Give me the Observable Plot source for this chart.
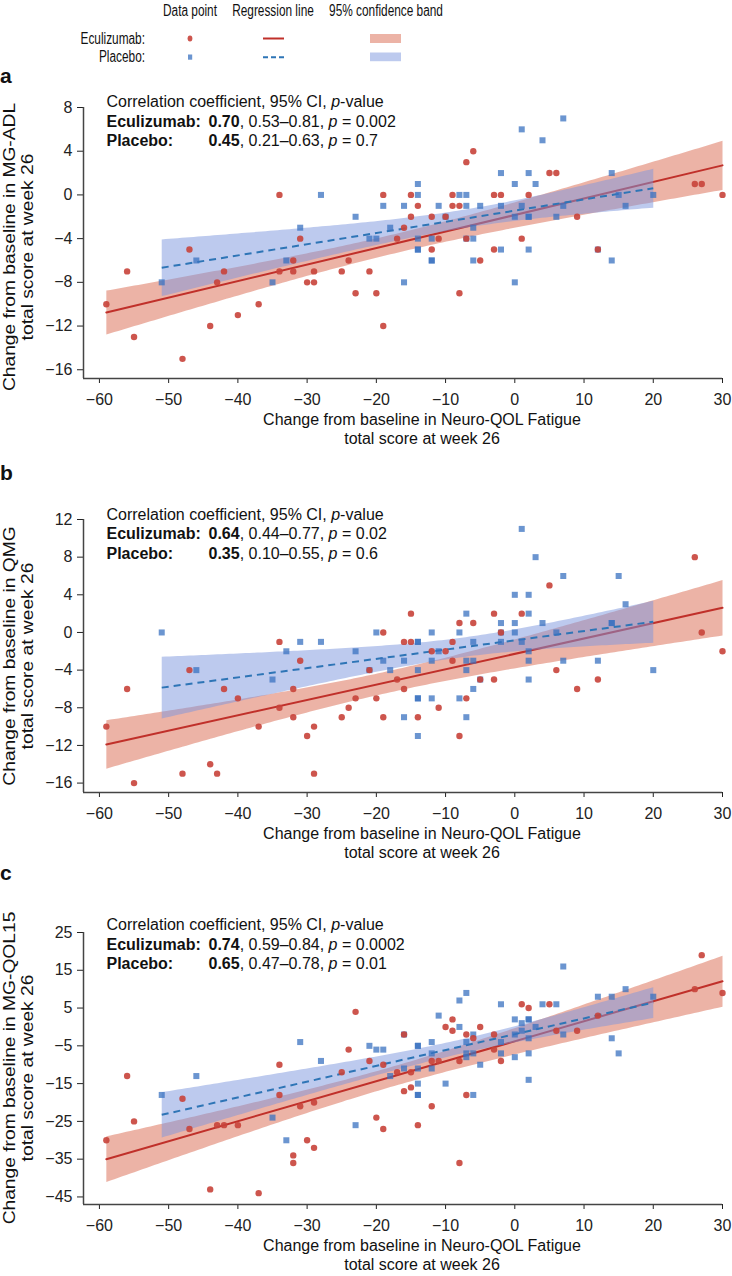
<!DOCTYPE html>
<html><head><meta charset="utf-8">
<script src="https://cdn.jsdelivr.net/npm/d3@7"></script>
<script src="https://cdn.jsdelivr.net/npm/@observablehq/plot@0.6"></script>
<style>
body{margin:0;background:#fff;font-family:"Liberation Sans",Arial,Helvetica,sans-serif;color:#111;}
#root{position:relative;width:732px;height:1276px;overflow:hidden;background:#fff;}
.abs{position:absolute;white-space:nowrap;}
.cond{transform:translate(-50%,-50%) scaleX(0.74);font-size:16px;line-height:1;}
.condR{transform:translate(-100%,-50%) scaleX(0.74);transform-origin:100% 50%;font-size:16px;line-height:1;}
.letter{font-weight:bold;font-size:21px;line-height:1;}
.ann{font-size:16px;line-height:19.5px;}
.ann .lab{display:inline-block;width:102px;font-weight:bold;}
.ann b{font-weight:bold;}
.xlab{font-size:16px;line-height:18.5px;text-align:center;transform:translateX(-50%);}
.ylab{font-size:16px;line-height:18px;text-align:center;transform:translate(-50%,-50%) rotate(-90deg) scaleX(1.2);}
</style></head><body><div id="root"></div>
<script>
// ---------- data ----------
const xTicks = [-60,-50,-40,-30,-20,-10,0,10,20,30];
const groups = ["Eculizumab", "Placebo"];
const legendHeaders = ["Data point", "Regression line", "95% confidence band"];
const xLabelLines = ["Change from baseline in Neuro-QOL Fatigue", "total score at week 26"];

// Panel a: MG-ADL
const aEculizumab = [[-59,-10],[-56,-7],[-55,-13],[-48,-15],[-47,-5],[-44,-12],[-43,-8],[-42,-7],[-40,-11],[-37,-10],[-34,0],[-34,-7],[-32,-6],[-32,-7],[-31,-4],[-30,-8],[-29,-7],[-29,-8],[-25,-7],[-24,-6],[-23,-9],[-21,-7],[-20,-9],[-19,0],[-19,-12],[-17,-4],[-16,-3],[-15,-2],[-15,0],[-14,-1],[-12,-2],[-12,-5],[-11,-4],[-10,-2],[-9,0],[-9,-1],[-8,-1],[-8,-9],[-7,3],[-7,-4],[-6,4],[-5,-6],[-3,0],[-3,-5],[-2,0],[1,-4],[2,0],[5,2],[6,2],[9,-2],[12,-5],[26,1],[27,1],[30,0]];
const aPlacebo = [[-51,-8],[-46,-6],[-35,-8],[-33,-6],[-31,-3],[-28,0],[-23,-2],[-21,-4],[-20,-4],[-19,-1],[-18,-3],[-16,-1],[-16,-8],[-14,1],[-14,0],[-14,-4],[-14,-5],[-14,-5],[-12,-4],[-12,-6],[-12,-6],[-11,-1],[-10,-2],[-8,0],[-7,0],[-7,-1],[-7,-4],[-6,-3],[-6,-4],[-6,-6],[-5,-1],[-2,2],[-2,-1],[-2,-5],[0,1],[0,-2],[0,-8],[1,6],[1,-1],[2,2],[2,-2],[2,-2],[2,-5],[3,1],[4,5],[6,-2],[7,7],[7,-1],[12,-5],[14,2],[14,-6],[15,0],[16,-1],[20,0]];
const aYTicks = [8,4,0,-4,-8,-12,-16];
const aStats = {Eculizumab: ["0.70", "0.53–0.81", "0.002"], Placebo: ["0.45", "0.21–0.63", "0.7"]};

// Panel b: QMG
const bEculizumab = [[-59,-10],[-56,-6],[-55,-16],[-48,-15],[-47,-4],[-44,-14],[-43,-15],[-42,-6],[-40,-7],[-37,-10],[-34,-1],[-34,-8],[-32,-6],[-32,-9],[-31,-3],[-30,-11],[-29,-10],[-29,-15],[-25,-9],[-24,-8],[-23,-7],[-21,-4],[-20,-7],[-19,0],[-19,-9],[-17,-5],[-16,-6],[-16,-1],[-15,-1],[-15,2],[-14,-9],[-12,-2],[-11,-8],[-10,-2],[-9,-1],[-9,-3],[-8,1],[-8,-11],[-7,-7],[-6,1],[-5,-5],[-3,2],[-3,-5],[-2,0],[1,2],[5,5],[6,-4],[9,-6],[12,-5],[26,8],[27,0],[30,-2]];
const bPlacebo = [[-51,0],[-46,-4],[-35,-5],[-33,-2],[-31,-1],[-28,-1],[-23,-2],[-21,-4],[-20,0],[-19,-3],[-18,-4],[-16,-3],[-16,-9],[-14,-1],[-14,-1],[-14,-4],[-14,-7],[-14,-7],[-14,-11],[-12,0],[-12,-3],[-12,-7],[-11,-2],[-8,0],[-8,-7],[-7,2],[-7,-3],[-7,-4],[-7,-9],[-6,-1],[-6,-3],[-6,-6],[-5,-5],[-2,1],[-2,-1],[-2,0],[0,4],[0,1],[0,0],[1,11],[1,-1],[2,4],[2,2],[2,-2],[2,-3],[2,-5],[3,8],[4,1],[6,0],[7,6],[7,-3],[12,-3],[14,1],[14,1],[15,6],[16,3],[20,-4]];
const bYTicks = [12,8,4,0,-4,-8,-12,-16];
const bStats = {Eculizumab: ["0.64", "0.44–0.77", "0.02"], Placebo: ["0.35", "0.10–0.55", "0.6"]};

// Panel c: MG-QOL15
const cEculizumab = [[-59,-30],[-56,-13],[-55,-25],[-48,-19],[-47,-27],[-44,-43],[-43,-26],[-42,-26],[-40,-26],[-37,-44],[-34,-10],[-34,-18],[-32,-34],[-32,-36],[-31,-21],[-30,-30],[-29,-32],[-29,-20],[-25,-12],[-24,-6],[-23,4],[-21,-9],[-20,-24],[-19,-10],[-19,-27],[-17,-12],[-16,-17],[-16,-2],[-15,-12],[-15,-16],[-14,-26],[-12,-9],[-12,-21],[-11,-9],[-10,0],[-9,2],[-9,-1],[-8,-9],[-8,-36],[-7,-2],[-7,-18],[-6,-3],[-5,0],[-3,-2],[-3,-6],[-2,-9],[1,6],[2,5],[5,6],[6,-1],[9,-1],[12,3],[26,10],[27,19],[30,9]];
const cPlacebo = [[-51,-18],[-46,-13],[-35,-24],[-33,-30],[-31,-4],[-28,-9],[-23,-26],[-21,-5],[-20,-6],[-19,-6],[-18,-13],[-16,-11],[-16,-2],[-14,-5],[-14,-5],[-14,-11],[-14,-15],[-14,-18],[-14,-18],[-12,-4],[-12,-7],[-12,-11],[-11,3],[-10,-15],[-8,7],[-8,0],[-7,9],[-7,-4],[-7,-7],[-7,-8],[-6,-2],[-6,-7],[-6,-18],[-5,-10],[-2,6],[-2,-4],[-2,-7],[0,2],[0,-2],[0,-8],[1,1],[1,-1],[2,2],[2,2],[2,-3],[2,-7],[2,-14],[3,0],[4,6],[6,6],[7,16],[7,-2],[12,8],[14,8],[14,-3],[15,-7],[16,10],[20,8]];
const cYTicks = [25,15,5,-5,-15,-25,-35,-45];
const cStats = {Eculizumab: ["0.74", "0.59–0.84", "0.0002"], Placebo: ["0.65", "0.47–0.78", "0.01"]};

// ---------- styles ----------
const C = {
  ecuPoint: "#c8423a", ecuLine: "#c0302a", ecuBand: "#e0806a",
  pboPoint: "#3a72c0", pboLine: "#2e75b6", pboBand: "#7b95de", axis: "#444"
};
const root = document.getElementById("root");
function add(html, cls, left, top, extra) {
  const d = document.createElement("div");
  d.className = "abs " + (cls || "");
  d.style.left = left + "px"; d.style.top = top + "px";
  if (extra) Object.assign(d.style, extra);
  d.innerHTML = html; root.appendChild(d); return d;
}

// ---------- legend ----------
[190, 273, 386].forEach((cx, i) => add(legendHeaders[i], "cond", cx, 11));
add(groups[0] + ":", "condR", 145, 38.5);
add(groups[1] + ":", "condR", 145, 57.3);
const lg = d3.select(root).append("svg").attr("class", "abs")
  .style("left", "0px").style("top", "0px").attr("width", 732).attr("height", 70);
lg.append("ellipse").attr("cx", 190).attr("cy", 38.5).attr("rx", 2.4).attr("ry", 3).attr("fill", C.ecuPoint).attr("fill-opacity", 0.9);
lg.append("rect").attr("x", 188).attr("y", 54.5).attr("width", 4.2).attr("height", 5.2).attr("fill", C.pboPoint).attr("fill-opacity", 0.75);
lg.append("line").attr("x1", 263).attr("x2", 284).attr("y1", 38.5).attr("y2", 38.5).attr("stroke", C.ecuLine).attr("stroke-width", 2);
lg.append("line").attr("x1", 263).attr("x2", 284).attr("y1", 57.3).attr("y2", 57.3).attr("stroke", C.pboLine).attr("stroke-width", 2).attr("stroke-dasharray", "5,3");
lg.append("rect").attr("x", 370).attr("y", 34).attr("width", 31).attr("height", 9).attr("fill", C.ecuBand).attr("fill-opacity", 0.6);
lg.append("rect").attr("x", 370).attr("y", 52.5).attr("width", 31).attr("height", 8.7).attr("fill", C.pboBand).attr("fill-opacity", 0.5);

// ---------- panels ----------
function toRows(pairs, g) { return pairs.map(([x, y]) => ({x, y, g})); }

function panel(cfg) {
  const ecu = toRows(cfg.ecu, groups[0]);
  const pbo = toRows(cfg.pbo, groups[1]);
  const xMin = -62.3;
  const plot = Plot.plot({
    width: 732, height: cfg.height,
    marginLeft: 83, marginRight: 10, marginTop: 12, marginBottom: 30,
    style: {fontFamily: '"Liberation Sans", Arial, sans-serif', fontSize: "16px", color: "#222", background: "transparent"},
    x: {domain: [xMin, 30], ticks: xTicks, tickSize: 5, tickPadding: 10, label: null},
    y: {domain: cfg.yDomain, ticks: cfg.yTicks, tickSize: 6, tickPadding: 5, label: null},
    marks: [
      Plot.linearRegressionY(ecu, {x: "x", y: "y", ci: 0.95, stroke: C.ecuLine, strokeWidth: 2, fill: C.ecuBand, fillOpacity: 0.6}),
      Plot.linearRegressionY(pbo, {x: "x", y: "y", ci: 0.95, stroke: C.pboLine, strokeWidth: 2, strokeDasharray: "7,5", strokeLinecap: "butt", fill: C.pboBand, fillOpacity: 0.5}),
      Plot.dot(pbo, {x: "x", y: "y", r: 3.4, symbol: "square", fill: C.pboPoint, fillOpacity: 0.75, stroke: null}),
      Plot.dot(ecu, {x: "x", y: "y", r: 3.2, fill: C.ecuPoint, fillOpacity: 0.9, stroke: null}),
      Plot.ruleX([xMin], {stroke: C.axis, strokeWidth: 1.5}),
      Plot.ruleY([cfg.yDomain[0]], {stroke: C.axis, strokeWidth: 1.5})
    ]
  });
  const wrap = add("", "", 0, cfg.top);
  wrap.appendChild(plot);

  const frameTop = cfg.top + 12, frameBottom = cfg.top + cfg.height - 30;
  add(cfg.letter, "letter", 0, cfg.letterTop);
  const st = cfg.stats;
  add(`Correlation coefficient, 95% CI, <i>p</i>-value<br>` +
      `<span class="lab">${groups[0]}:</span><b>${st.Eculizumab[0]}</b>, ${st.Eculizumab[1]}, <i>p</i> = ${st.Eculizumab[2]}<br>` +
      `<span class="lab">${groups[1]}:</span><b>${st.Placebo[0]}</b>, ${st.Placebo[1]}, <i>p</i> = ${st.Placebo[2]}`,
      "ann", 106.5, cfg.annTop);
  add(xLabelLines.join("<br>"), "xlab", 422, frameBottom + 33);
  add(cfg.yLabel + "<br>" + xLabelLines[1], "ylab", 19, (frameTop + frameBottom) / 2 + cfg.yLabelShift);
}

panel({letter: "a", letterTop: 65, top: 95, height: 313, yDomain: [-16.8, 8], yTicks: aYTicks, yLabelShift: 4,
  ecu: aEculizumab, pbo: aPlacebo, stats: aStats, annTop: 92, yLabel: "Change from baseline in MG-ADL"});
panel({letter: "b", letterTop: 462, top: 507, height: 315, yDomain: [-17, 12], yTicks: bYTicks, yLabelShift: 0,
  ecu: bEculizumab, pbo: bPlacebo, stats: bStats, annTop: 504.5, yLabel: "Change from baseline in QMG"});
panel({letter: "c", letterTop: 862, top: 920, height: 314, yDomain: [-47, 25], yTicks: cYTicks, yLabelShift: 0,
  ecu: cEculizumab, pbo: cPlacebo, stats: cStats, annTop: 915, yLabel: "Change from baseline in MG-QOL15"});
</script>
</body></html>
